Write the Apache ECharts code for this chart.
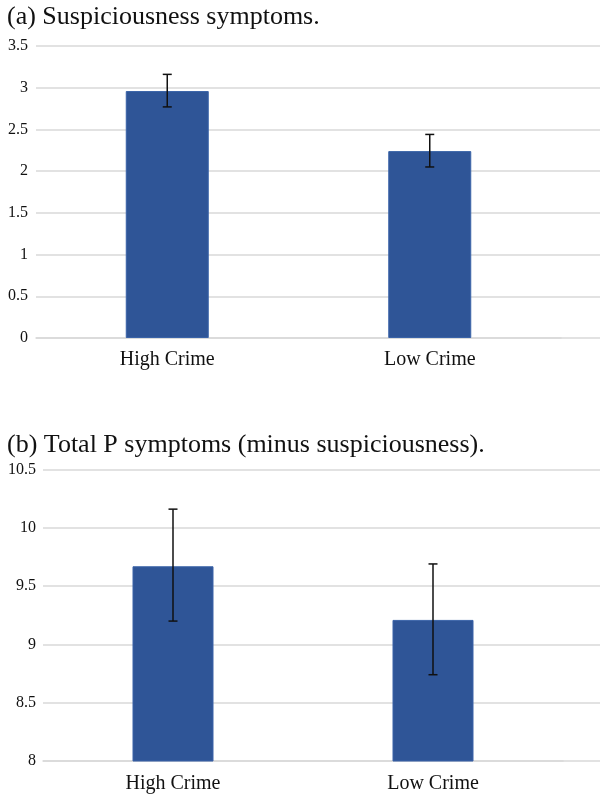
<!DOCTYPE html>
<html>
<head>
<meta charset="utf-8">
<script src="https://cdn.jsdelivr.net/npm/echarts@6/dist/echarts.min.js"></script>
<style>
html,body{margin:0;padding:0;background:#fff;}
#c{width:600px;height:798px;}
</style>
</head>
<body>
<div id="c"></div>
<script>
var categories = ['High Crime', 'Low Crime'];
var titleA = '(a) Suspiciousness symptoms.';
var titleB = '(b) Total P symptoms (minus suspiciousness).';
var suspMean = [2.96, 2.24];
var suspLow = [2.77, 2.05];
var suspHigh = [3.16, 2.44];
var totalMean = [9.67, 9.21];
var totalLow = [9.20, 8.74];
var totalHigh = [10.16, 9.69];

var FONT = '"Liberation Serif", "Times New Roman", serif';
var BAR = '#2F5597';
var GRIDC = '#d9d9d9';

function errSeries(xi, yi, low, high) {
  return {
    type: 'custom', xAxisIndex: xi, yAxisIndex: yi, z: 10,
    data: categories.map(function (c, i) { return [i, low[i], high[i]]; }),
    renderItem: function (params, api) {
      var lo = api.coord([api.value(0), api.value(1)]);
      var hi = api.coord([api.value(0), api.value(2)]);
      var x = lo[0], cw = 4.5;
      var st = { stroke: '#111', lineWidth: 1.5 };
      return { type: 'group', children: [
        { type: 'line', shape: { x1: x, y1: lo[1], x2: x, y2: hi[1] }, style: st },
        { type: 'line', shape: { x1: x - cw, y1: lo[1], x2: x + cw, y2: lo[1] }, style: st },
        { type: 'line', shape: { x1: x - cw, y1: hi[1], x2: x + cw, y2: hi[1] }, style: st }
      ]};
    }
  };
}

var chart = echarts.init(document.getElementById('c'));
chart.setOption({
  backgroundColor: '#fff',
  animation: false,
  title: [
    { text: titleA, left: 2, top: -1, textStyle: { fontFamily: FONT, fontSize: 26, fontWeight: 'normal', color: '#111' } },
    { text: titleB, left: 2, top: 427, textStyle: { fontFamily: FONT, fontSize: 26, fontWeight: 'normal', color: '#111' } }
  ],
  grid: [
    { left: 36, width: 525, top: 46, height: 292 },
    { left: 36, right: 0, top: 46, height: 292 },
    { left: 43, width: 520, top: 469.5, height: 291.5 },
    { left: 43, right: 0, top: 469.5, height: 291.5 }
  ],
  xAxis: [
    { type: 'category', gridIndex: 0, data: categories, axisTick: { show: false },
      axisLine: { lineStyle: { color: GRIDC, width: 1.5 } },
      axisLabel: { fontFamily: FONT, fontSize: 20, color: '#111', margin: 12 } },
    { type: 'value', gridIndex: 1, show: false },
    { type: 'category', gridIndex: 2, data: categories, axisTick: { show: false },
      axisLine: { lineStyle: { color: GRIDC, width: 1.5 } },
      axisLabel: { fontFamily: FONT, fontSize: 20, color: '#111', margin: 13 } },
    { type: 'value', gridIndex: 3, show: false }
  ],
  yAxis: [
    { type: 'value', gridIndex: 0, min: 0, max: 3.5, interval: 0.5, splitLine: { show: false },
      axisLabel: { show: false }, axisLine: { show: false }, axisTick: { show: false } },
    { type: 'value', gridIndex: 1, min: 0, max: 3.5, interval: 0.5,
      splitLine: { lineStyle: { color: GRIDC, width: 1.5 } },
      axisLine: { show: false }, axisTick: { show: false },
      axisLabel: { fontFamily: FONT, fontSize: 16, color: '#111', margin: 8 } },
    { type: 'value', gridIndex: 2, min: 8, max: 10.5, interval: 0.5, splitLine: { show: false },
      axisLabel: { show: false }, axisLine: { show: false }, axisTick: { show: false } },
    { type: 'value', gridIndex: 3, min: 8, max: 10.5, interval: 0.5,
      splitLine: { lineStyle: { color: GRIDC, width: 1.5 } },
      axisLine: { show: false }, axisTick: { show: false },
      axisLabel: { fontFamily: FONT, fontSize: 16, color: '#111', margin: 7 } }
  ],
  series: [
    { type: 'bar', xAxisIndex: 0, yAxisIndex: 0, data: suspMean, barWidth: 83,
      itemStyle: { color: BAR, borderColor: '#3a63a8', borderWidth: 1 } },
    errSeries(0, 0, suspLow, suspHigh),
    { type: 'bar', xAxisIndex: 2, yAxisIndex: 2, data: totalMean, barWidth: 81,
      itemStyle: { color: BAR, borderColor: '#3a63a8', borderWidth: 1 } },
    errSeries(2, 2, totalLow, totalHigh)
  ]
});
</script>
</body>
</html>
